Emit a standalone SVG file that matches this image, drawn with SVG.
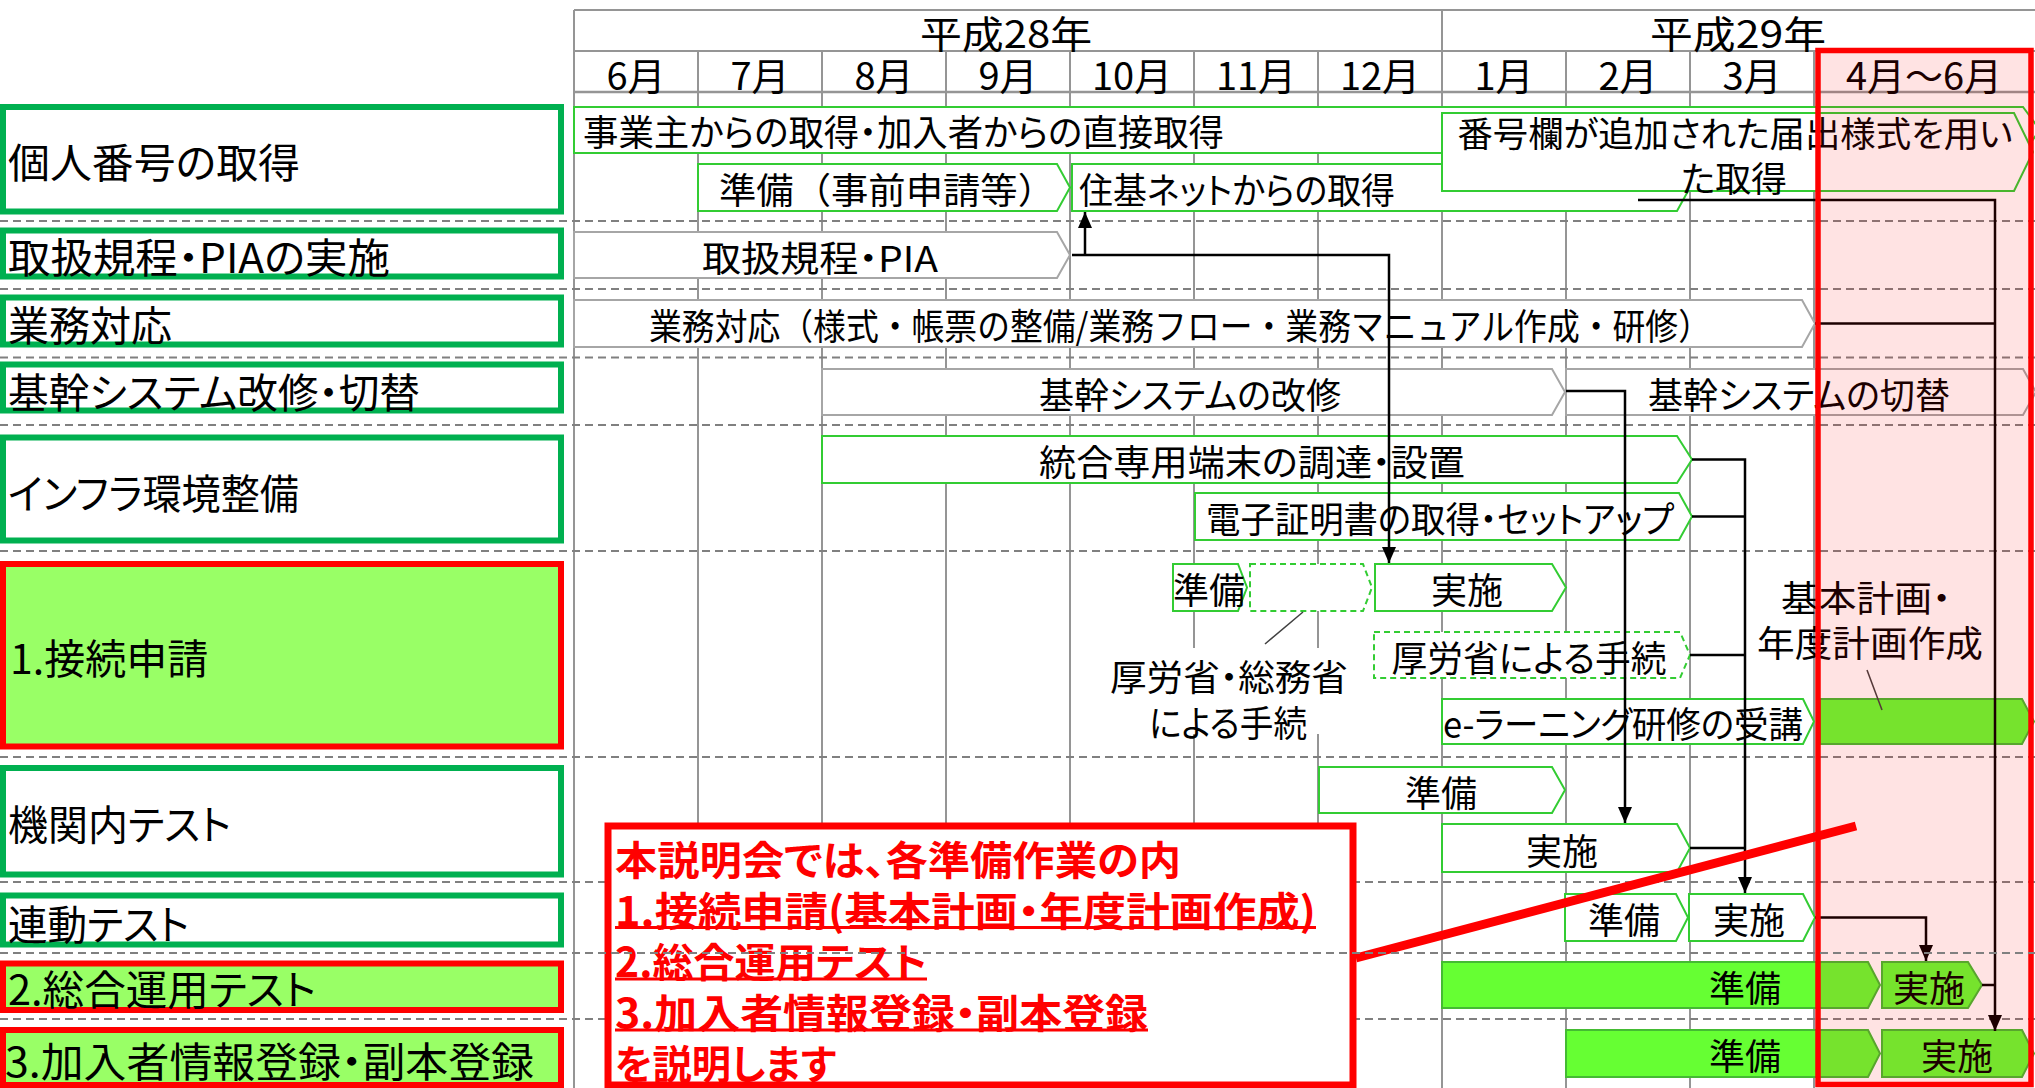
<svg xmlns="http://www.w3.org/2000/svg" width="2035" height="1088" viewBox="0 0 2035 1088">
<style>
.t{font-family:"Noto Sans CJK JP","Noto Sans",sans-serif;fill:#000;dominant-baseline:central;font-feature-settings:"palt"}
.m{text-anchor:middle}
.hd{font-size:38px}
.lt{font-size:41px}
.bt{font-size:36px}
.ct{font-family:"Noto Sans CJK JP","Noto Sans",sans-serif;font-weight:bold;font-size:40px;fill:#FF0000;dominant-baseline:central;font-feature-settings:"palt"}
.lg{fill:#fff;stroke:#00B050;stroke-width:6}
.lr{fill:#99FF66;stroke:#FF0000;stroke-width:6}
.bg{fill:#fff;stroke:#33CC33;stroke-width:2}
.by{fill:#fff;stroke:#A6A6A6;stroke-width:2}
.bd{fill:#fff;stroke:#33CC33;stroke-width:2;stroke-dasharray:6 4}
.bf{fill:#66FF33;stroke:#44BB33;stroke-width:2}
.grid{stroke:#959595;stroke-width:2}
.dash{stroke:#808080;stroke-width:2;stroke-dasharray:8 5}
.conn{fill:none;stroke:#000;stroke-width:2.5}
.ann{stroke:#404040;stroke-width:1.5}
.ul{stroke:#FF0000;stroke-width:3}
</style>
<defs>
<marker id="arr" viewBox="0 0 16 14" refX="16" refY="7" markerWidth="16" markerHeight="14" markerUnits="userSpaceOnUse" orient="auto">
<path d="M0,0 L16,7 L0,14 z" fill="#000"/>
</marker>
</defs>
<rect x="0" y="0" width="2035" height="1088" fill="#fff"/>

<g id="grid">
<line class="grid" x1="574" y1="10" x2="2035" y2="10"/>
<line class="grid" x1="574" y1="51" x2="2035" y2="51"/>
<line class="grid" x1="574" y1="92" x2="2035" y2="92" style="stroke-width:2.5"/>
<line class="grid" x1="574" y1="10" x2="574" y2="1088"/>
<line class="grid" x1="1442" y1="10" x2="1442" y2="1088"/>
<line class="grid" x1="698" y1="51" x2="698" y2="1088"/>
<line class="grid" x1="822" y1="51" x2="822" y2="1088"/>
<line class="grid" x1="946" y1="51" x2="946" y2="1088"/>
<line class="grid" x1="1070" y1="51" x2="1070" y2="1088"/>
<line class="grid" x1="1194" y1="51" x2="1194" y2="1088"/>
<line class="grid" x1="1318" y1="51" x2="1318" y2="1088"/>
<line class="grid" x1="1566" y1="51" x2="1566" y2="1088"/>
<line class="grid" x1="1690" y1="51" x2="1690" y2="1088"/>
<line class="grid" x1="1814" y1="51" x2="1814" y2="1088"/>
<text class="t hd m" x="1006" y="31" textLength="172" lengthAdjust="spacingAndGlyphs">平成28年</text>
<text class="t hd m" x="1738" y="31" textLength="176" lengthAdjust="spacingAndGlyphs">平成29年</text>
<text class="t hd m" x="636" y="73">6月</text>
<text class="t hd m" x="760" y="73">7月</text>
<text class="t hd m" x="884" y="73">8月</text>
<text class="t hd m" x="1008" y="73">9月</text>
<text class="t hd m" x="1132" y="73">10月</text>
<text class="t hd m" x="1256" y="73">11月</text>
<text class="t hd m" x="1380" y="73">12月</text>
<text class="t hd m" x="1504" y="73">1月</text>
<text class="t hd m" x="1628" y="73">2月</text>
<text class="t hd m" x="1752" y="73">3月</text>
<text class="t hd m" x="1924" y="73">4月～6月</text>
<line class="dash" x1="0" y1="221" x2="2035" y2="221"/>
<line class="dash" x1="0" y1="289" x2="2035" y2="289"/>
<line class="dash" x1="0" y1="357.5" x2="2035" y2="357.5"/>
<line class="dash" x1="0" y1="425" x2="2035" y2="425"/>
<line class="dash" x1="0" y1="551" x2="2035" y2="551"/>
<line class="dash" x1="0" y1="757" x2="2035" y2="757"/>
<line class="dash" x1="0" y1="882" x2="2035" y2="882"/>
<line class="dash" x1="0" y1="1019" x2="2035" y2="1019"/>
</g>

<g id="label-1"><rect class="lg" x="3" y="107" width="558" height="104.5"/><text class="t lt" x="8" y="160" textLength="292" lengthAdjust="spacingAndGlyphs">個人番号の取得</text></g>
<g id="label-2"><rect class="lg" x="3" y="230.5" width="558" height="46"/><text class="t lt" x="8" y="255" textLength="382" lengthAdjust="spacingAndGlyphs">取扱規程・PIAの実施</text></g>
<g id="label-3"><rect class="lg" x="3" y="297.5" width="558" height="47"/><text class="t lt" x="8" y="323">業務対応</text></g>
<g id="label-4"><rect class="lg" x="3" y="364.5" width="558" height="46"/><text class="t lt" x="8" y="390" textLength="412" lengthAdjust="spacingAndGlyphs">基幹システム改修・切替</text></g>
<g id="label-5"><rect class="lg" x="3" y="437.5" width="558" height="103"/><text class="t lt" x="8" y="491" textLength="291" lengthAdjust="spacingAndGlyphs">インフラ環境整備</text></g>
<g id="label-6"><rect class="lr" x="3" y="564" width="558" height="182.5"/><text class="t lt" x="10" y="656">1.接続申請</text></g>
<g id="label-7"><rect class="lg" x="3" y="768" width="558" height="106.5"/><text class="t lt" x="8" y="822" textLength="223" lengthAdjust="spacingAndGlyphs">機関内テスト</text></g>
<g id="label-8"><rect class="lg" x="3" y="895.5" width="558" height="49"/><text class="t lt" x="8" y="922" textLength="181" lengthAdjust="spacingAndGlyphs">連動テスト</text></g>
<g id="label-9"><rect class="lr" x="3" y="963.5" width="558" height="46.5"/><text class="t lt" x="8" y="987" textLength="308" lengthAdjust="spacingAndGlyphs">2.総合運用テスト</text></g>
<g id="label-10"><rect class="lr" x="3" y="1030" width="558" height="55"/><text class="t lt" x="5" y="1059" textLength="529" lengthAdjust="spacingAndGlyphs">3.加入者情報登録・副本登録</text></g>

<g id="bar-jigyonushi"><polygon class="bg" points="574,107 2023,107 2040,130 2023,153 574,153"/><text class="t bt" x="583" y="130" textLength="641" lengthAdjust="spacingAndGlyphs">事業主からの取得・加入者からの直接取得</text></g>
<g id="bar-junbi-jizen"><polygon class="bg" points="698,164 1057,164 1070,187.5 1057,211 698,211"/><text class="t bt" x="719" y="188" textLength="336" lengthAdjust="spacingAndGlyphs" style="font-feature-settings:normal">準備（事前申請等）</text></g>
<g id="bar-jyuki"><polygon class="bg" points="1072,164 1677,164 1690,187.5 1677,211 1072,211"/><text class="t bt" x="1079" y="188" textLength="316" lengthAdjust="spacingAndGlyphs">住基ネットからの取得</text></g>
<g id="bar-bangou"><polygon class="bg" points="1442,113 2014,113 2033,152 2014,191 1442,191"/><text class="t m" style="font-size:35px" x="1735" y="131" textLength="555" lengthAdjust="spacingAndGlyphs">番号欄が追加された届出様式を用い</text><text class="t m" style="font-size:35px" x="1734" y="176" textLength="106" lengthAdjust="spacingAndGlyphs">た取得</text></g>
<g id="bar-pia"><polygon class="by" points="574,232 1057,232 1070,255 1057,278 574,278"/><text class="t bt m" x="820" y="256" textLength="236" lengthAdjust="spacingAndGlyphs">取扱規程・PIA</text></g>
<g id="bar-gyomu"><polygon class="by" points="574,300 1802,300 1815,323.5 1802,347 574,347"/><text class="t bt m" x="1180" y="324" textLength="1062" lengthAdjust="spacingAndGlyphs" style="font-feature-settings:normal">業務対応（様式・帳票の整備/業務フロー・業務マニュアル作成・研修）</text></g>
<g id="bar-kaishu"><polygon class="by" points="822,369 1552,369 1565,392 1552,415 822,415"/><text class="t bt m" x="1190" y="393" textLength="302" lengthAdjust="spacingAndGlyphs">基幹システムの改修</text></g>
<g id="bar-kirikae"><polygon class="by" points="1566,369 2023,369 2036,392 2023,415 1566,415"/><text class="t bt m" x="1799" y="393" textLength="302" lengthAdjust="spacingAndGlyphs">基幹システムの切替</text></g>
<g id="bar-tango"><polygon class="bg" points="822,436 1677,436 1692,459.5 1677,483 822,483"/><text class="t bt m" x="1252" y="460" textLength="426" lengthAdjust="spacingAndGlyphs">統合専用端末の調達・設置</text></g>
<g id="bar-denshi"><polygon class="bg" points="1195,493 1679,493 1692,516.5 1679,540 1195,540"/><text class="t bt m" x="1440" y="517" textLength="468" lengthAdjust="spacingAndGlyphs">電子証明書の取得・セットアップ</text></g>
<g id="bar-setsuzoku-junbi"><polygon class="bg" points="1173,564 1238,564 1247,587.5 1238,611 1173,611"/><text class="t bt m" x="1209" y="588">準備</text></g>
<g id="bar-setsuzoku-dashed"><polygon class="bd" points="1250,564 1363,564 1372,587.5 1363,611 1250,611"/></g>
<g id="bar-setsuzoku-jisshi"><polygon class="bg" points="1375,564 1552,564 1566,587.5 1552,611 1375,611"/><text class="t bt m" x="1467" y="588">実施</text></g>
<g id="bar-koroshou"><polygon class="bd" points="1374,632 1680,632 1690,655 1680,678 1374,678"/><text class="t bt m" x="1529" y="656" textLength="275" lengthAdjust="spacingAndGlyphs">厚労省による手続</text></g>
<g id="bar-elearning"><polygon class="bg" points="1442,699 1803,699 1814,721.5 1803,744 1442,744"/><text class="t bt m" x="1623" y="722" textLength="360" lengthAdjust="spacingAndGlyphs">e-ラーニング研修の受講</text></g>
<g id="bar-keikaku"><polygon class="bf" points="1820,699 2022,699 2034,721.5 2022,744 1820,744"/></g>
<g id="bar-kikan-junbi"><polygon class="bg" points="1319,767 1552,767 1565,790 1552,813 1319,813"/><text class="t bt m" x="1441" y="791">準備</text></g>
<g id="bar-kikan-jisshi"><polygon class="bg" points="1442,824 1677,824 1690,848 1677,872 1442,872"/><text class="t bt m" x="1562" y="849">実施</text></g>
<g id="bar-rendo-junbi"><polygon class="bg" points="1565,894 1676,894 1688,917.5 1676,941 1565,941"/><text class="t bt m" x="1624" y="918">準備</text></g>
<g id="bar-rendo-jisshi"><polygon class="bg" points="1689,894 1803,894 1815,917.5 1803,941 1689,941"/><text class="t bt m" x="1749" y="918">実施</text></g>
<g id="bar-sogo-junbi"><polygon class="bf" points="1442,962 1868,962 1880,985 1868,1008 1442,1008"/><text class="t bt m" x="1745" y="986">準備</text></g>
<g id="bar-sogo-jisshi"><polygon class="bf" points="1882,962 1968,962 1982,985 1968,1008 1882,1008"/><text class="t bt m" x="1929" y="986">実施</text></g>
<g id="bar-kanyu-junbi"><polygon class="bf" points="1566,1030 1868,1030 1880,1053.5 1868,1077 1566,1077"/><text class="t bt m" x="1745" y="1054">準備</text></g>
<g id="bar-kanyu-jisshi"><polygon class="bf" points="1882,1030 2022,1030 2034,1053.5 2022,1077 1882,1077"/><text class="t bt m" x="1957" y="1054">実施</text></g>

<g id="note-tetsuzuki">
<rect x="1105" y="648" width="248" height="86" fill="#fff"/>
<line class="ann" x1="1303" y1="612" x2="1265" y2="644"/>
<text class="t bt m" x="1229" y="675" textLength="238" lengthAdjust="spacingAndGlyphs">厚労省・総務省</text>
<text class="t bt m" x="1228" y="721" textLength="158" lengthAdjust="spacingAndGlyphs">による手続</text>
</g>
<g id="note-keikaku">
<line class="ann" x1="1867" y1="670" x2="1882" y2="710"/>
<text class="t m" x="1866" y="596" style="font-size:36px" textLength="170" lengthAdjust="spacingAndGlyphs">基本計画・</text>
<text class="t m" x="1870" y="641" style="font-size:36px" textLength="226" lengthAdjust="spacingAndGlyphs">年度計画作成</text>
</g>

<g id="connectors">
<polyline class="conn" points="1072,255 1389,255 1389,563" marker-end="url(#arr)"/>
<line class="conn" x1="1085" y1="255" x2="1085" y2="212" marker-end="url(#arr)"/>
<polyline class="conn" points="1566,391 1625,391 1625,823" marker-end="url(#arr)"/>
<polyline class="conn" points="1692,459.5 1745,459.5 1745,893" marker-end="url(#arr)"/>
<line class="conn" x1="1692" y1="516.5" x2="1745" y2="516.5"/>
<line class="conn" x1="1690" y1="655" x2="1745" y2="655"/>
<line class="conn" x1="1690" y1="848" x2="1745" y2="848"/>
<polyline class="conn" points="1638,200 1995,200 1995,1031" marker-end="url(#arr)"/>
<line class="conn" x1="1815" y1="323.5" x2="1995" y2="323.5"/>
<line class="conn" x1="1982" y1="985" x2="1995" y2="985"/>
<polyline class="conn" points="1815,917.5 1926,917.5 1926,961" marker-end="url(#arr)"/>
</g>

<g id="focus-apr-jun">
<rect x="1818" y="50.5" width="213" height="1034" fill="#FF0000" fill-opacity="0.11" stroke="#FF0000" stroke-width="5.5"/>
</g>

<g id="callout">
<rect x="608" y="826" width="745" height="259" fill="#fff" stroke="#FF0000" stroke-width="7"/>
<line x1="1356" y1="958" x2="1856" y2="826" stroke="#FF0000" stroke-width="9"/>
<text class="ct" x="615" y="858" textLength="566" lengthAdjust="spacingAndGlyphs">本説明会では、各準備作業の内</text>
<text class="ct" x="615" y="909" textLength="701" lengthAdjust="spacingAndGlyphs">1.接続申請(基本計画・年度計画作成)</text>
<line class="ul" x1="615" y1="927.5" x2="1316" y2="927.5"/>
<text class="ct" x="615" y="960" textLength="312" lengthAdjust="spacingAndGlyphs">2.総合運用テスト</text>
<line class="ul" x1="615" y1="979" x2="927" y2="979"/>
<text class="ct" x="615" y="1011" textLength="533" lengthAdjust="spacingAndGlyphs">3.加入者情報登録・副本登録</text>
<line class="ul" x1="615" y1="1030" x2="1148" y2="1030"/>
<text class="ct" x="615" y="1062" textLength="221" lengthAdjust="spacingAndGlyphs">を説明します</text>
<line class="dash" x1="0" y1="953" x2="2035" y2="953"/>
</g>
</svg>
